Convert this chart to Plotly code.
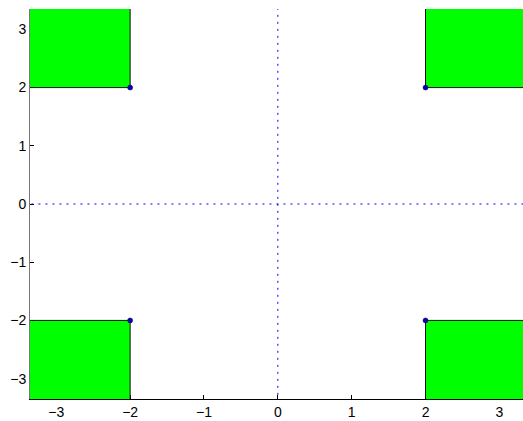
import plotly.graph_objects as go

# data
corner_x = [-2, 2, -2, 2]
corner_y = [2, 2, -2, -2]
extent = 4  # regions extend outward beyond the visible range
x_ticks = [-3, -2, -1, 0, 1, 2, 3]
y_ticks = [-3, -2, -1, 0, 1, 2, 3]
x_range = [-3.356, 3.32]
y_range = [-3.35, 3.35]

fig = go.Figure()

# green corner regions
for cx, cy in zip(corner_x, corner_y):
    sx = 1 if cx > 0 else -1
    sy = 1 if cy > 0 else -1
    ox = sx * extent
    oy = sy * extent
    fig.add_trace(go.Scatter(
        x=[cx, ox, ox, cx, cx], y=[cy, cy, oy, oy, cy],
        mode="lines", fill="toself", fillcolor="#00ff00",
        line=dict(color="#111111", width=1), hoverinfo="skip", showlegend=False))

# dotted crosshair
fig.add_trace(go.Scatter(x=[0, 0], y=[-extent, extent], mode="lines",
                         line=dict(color="#0000ff", width=1, dash="2px,5px"),
                         showlegend=False))
fig.add_trace(go.Scatter(x=[-extent, extent], y=[0, 0], mode="lines",
                         line=dict(color="#0000ff", width=1, dash="2px,5px"),
                         showlegend=False))

# corner points
fig.add_trace(go.Scatter(x=corner_x, y=corner_y, mode="markers",
                         marker=dict(color="#0000b0", size=5,
                                     line=dict(color="#000060", width=0.5)),
                         showlegend=False))

font = dict(family="Liberation Sans, Arial, sans-serif", size=14, color="#000000")
fig.update_layout(
    width=523, height=421,
    margin=dict(l=30, r=0, t=9, b=22),
    plot_bgcolor="white", paper_bgcolor="white",
    font=font,
    xaxis=dict(range=x_range, tickvals=x_ticks, ticks="inside", ticklen=4,
               tickcolor="black", showgrid=False, zeroline=False,
               showline=True, linecolor="black", linewidth=1, layer="below traces",
               tickfont=font),
    yaxis=dict(range=y_range, tickvals=y_ticks, ticks="inside", ticklen=4,
               tickcolor="black", showgrid=False, zeroline=False,
               showline=True, linecolor="#777777", linewidth=1, layer="below traces",
               tickfont=font),
)

fig.write_html("out.html", config={"displayModeBar": False},
               post_script="document.body.style.margin='0';document.body.style.overflow='hidden';")
